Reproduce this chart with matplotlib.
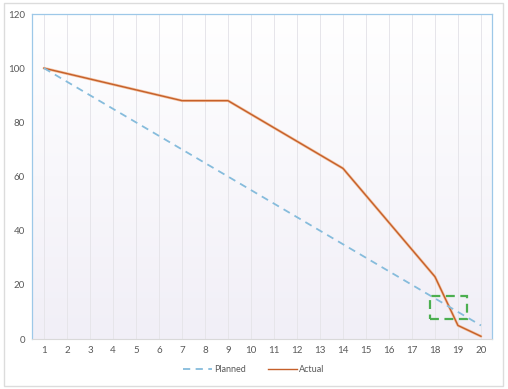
import numpy as np
import matplotlib
matplotlib.use('Agg')
import matplotlib.pyplot as plt
from matplotlib.patches import Rectangle
from matplotlib.colors import LinearSegmentedColormap

plt.rcParams['font.family'] = ['Lato', 'DejaVu Sans']

days = list(range(1, 21))
planned = [100, 95, 90, 85, 80, 75, 70, 65, 60, 55, 50, 45, 40, 35, 30, 25, 20, 15, 10, 5]
actual = [100, 98, 96, 94, 92, 90, 88, 88, 88, 83, 78, 73, 68, 63, 53, 43, 33, 23, 5, 1]
y_ticks = [0, 20, 40, 60, 80, 100, 120]

# highlight box (days, value)
box_x = (17.8, 19.4)
box_y = (7.5, 16.0)

fig = plt.figure(figsize=(5.08, 3.89), dpi=100)
ax = fig.add_axes([0.063, 0.1285, 0.9055, 0.8355])

# outer frame
fig.patches.append(Rectangle((4 / 508, 3 / 389), 499 / 508, 383 / 389, transform=fig.transFigure,
                             fill=False, edgecolor='#dcdcdc', lw=1))

# background gradient
cmap = LinearSegmentedColormap.from_list('bg', ['#ffffff', '#f1eff7'])
grad = np.linspace(0, 1, 256).reshape(-1, 1)
ax.imshow(grad, extent=[0.48, 20.48, 0, 120], aspect='auto', cmap=cmap, zorder=0, origin='upper')

for d in days:
    ax.axvline(d, color='#e6e5ea', lw=0.7, zorder=1)

ax.plot(days, actual, color='#f3c1a0', lw=2.0, zorder=3, solid_capstyle='round')
ax.plot(days, actual, color='#c5602a', lw=1.0, zorder=4, label='Actual')
ax.plot(days, planned, color='#86bcdc', lw=1.3, ls=(0, (4, 3)), zorder=4, label='Planned')

ax.add_patch(Rectangle((box_x[0], box_y[0]), box_x[1] - box_x[0], box_y[1] - box_y[0],
                       fill=False, edgecolor='#4caf50', lw=1.6, ls=(0, (4, 2.5)), zorder=5))

ax.set_xlim(0.48, 20.48)
ax.set_ylim(0, 120)
ax.set_xticks(days)
ax.set_yticks(y_ticks)
ax.tick_params(length=0, labelsize=7, colors='#595959', pad=5)

for s in ['left', 'top', 'right']:
    ax.spines[s].set_color('#9dc8e8')
    ax.spines[s].set_linewidth(0.9)
ax.spines['bottom'].set_color('#d9d9d9')
ax.spines['bottom'].set_linewidth(0.8)

h, l = ax.get_legend_handles_labels()
fig.legend([h[1], h[0]], [l[1], l[0]], loc='center', bbox_to_anchor=(0.5, 0.05), ncol=2,
           frameon=False, fontsize=6.5, labelcolor='#595959', handlelength=3.2, columnspacing=2.5,
           handletextpad=0.2)

fig.savefig('out.png', dpi=100)
